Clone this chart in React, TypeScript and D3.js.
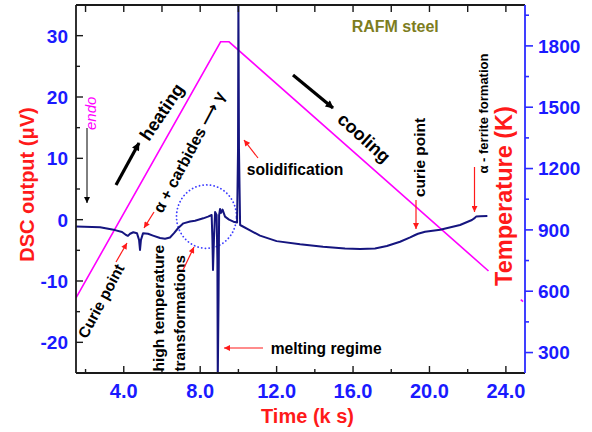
import React from 'react';
import * as d3 from 'd3';

// ---------------- data ----------------
const timeKs = [
  1.5, 2.76, 3.54, 3.91, 4.12, 4.22, 4.33, 4.5, 4.69, 4.8, 4.85, 4.9, 5.01, 5.27, 5.53, 5.9, 6.16, 6.42,
  6.63, 6.84, 7.12, 7.47, 7.73, 8.16, 8.41, 8.6, 8.64, 8.67, 8.72, 8.78, 8.86, 8.9, 8.92, 8.96, 8.99,
  9.04, 9.09, 9.17, 9.3, 9.51, 9.74, 9.93, 9.98, 10.0, 10.03, 10.09, 10.61, 11.13, 12.0, 13.23, 14.43,
  15.58, 16.37, 17.15, 17.77, 18.46, 18.99, 19.25, 19.4, 19.77, 20.56, 21.6, 22.22, 22.34, 22.44,
  22.65, 23.03,
];
const dscUV = [
  -1.1, -1.25, -1.7, -2.0, -2.5, -2.65, -2.3, -2.05, -2.2, -3.3, -4.95, -3.3, -2.2, -2.3, -2.6, -3.0,
  -3.1, -2.9, -2.2, -1.4, -0.6, -0.3, -0.17, 0.22, 0.5, 0.76, -3.3, -8.2, -3.3, 1.25, 0.75, -6.6,
  -26.2, -13, 0.75, 1.75, 1.1, 1.65, 0.5, 0.0, -0.33, -0.45, 11.4, 36, 11.4, -0.87, -1.75, -2.6, -3.5,
  -4.0, -4.4, -4.7, -4.8, -4.7, -4.3, -3.6, -2.9, -2.5, -2.3, -1.97, -1.65, -0.87, -0.06, 0.2, 0.5,
  0.55, 0.6,
];
const tempTimeKs = [1.5, 9.07, 9.51, 23.09];
const tempK = [567, 1820, 1820, 699];
const tempTailTimeKs = [24.78, 24.9];
const tempTailK = [559, 549];

const xTicks = [4, 8, 12, 16, 20, 24];
const xMinorTicks = [2, 6, 10, 14, 18, 22];
const dscTicks = [-20, -10, 0, 10, 20, 30];
const dscMinorTicks = [-15, -5, 5, 15, 25];
const tempTicks = [300, 600, 900, 1200, 1500, 1800];
const tempMinorTicks = [450, 750, 1050, 1350, 1650, 1950];

// highlighted region (data units)
const circleCenter = [8.33, 0.5];
const circleRadius = [1.57, 5.17];

// ---------------- layout ----------------
const W = 592;
const H = 432;
const L = 76, R = 525, T = 5, B = 373;

const FONT = '"Liberation Sans", Arial, "DejaVu Sans", sans-serif';
const BLUE = '#1a1aff';
const RED = '#ff1a1a';
const NAVY = '#15157f';
const MAGENTA = '#ff00ff';

export default function App() {
  const x = d3.scaleLinear().domain([1.5, 25]).range([L, R]);
  const yL = d3.scaleLinear().domain([-25, 35]).range([B, T]);
  const yR = d3.scaleLinear().domain([200, 2000]).range([B, T]);

  const dscLine = d3
    .line<number>()
    .x((_, i) => x(timeKs[i]))
    .y((d) => yL(d));
  const tLine = d3
    .line<number>()
    .x((_, i) => x(tempTimeKs[i]))
    .y((d) => yR(d));
  const tTail = d3
    .line<number>()
    .x((_, i) => x(tempTailTimeKs[i]))
    .y((d) => yR(d));

  const ellipsePts = d3.range(0, 361, 3).map((a) => {
    const r = (a * Math.PI) / 180;
    return [circleCenter[0] + circleRadius[0] * Math.cos(r), circleCenter[1] + circleRadius[1] * Math.sin(r)];
  });
  const ellipsePath = d3
    .line<number[]>()
    .x((d) => x(d[0]))
    .y((d) => yL(d[1]))(ellipsePts);

  const redArrows = [
    [116, 262, 127, 243],
    [154, 212, 144, 228],
    [183, 270, 194, 247],
    [258, 158, 244, 140],
    [263, 348, 224, 348],
    [416, 200, 416, 229],
    [474.5, 167, 474.5, 212],
  ];

  const bold = { fontFamily: FONT, fontWeight: 700 } as const;

  return (
    <svg width={W} height={H} style={{ position: 'absolute', left: 0, top: 0, background: '#fff' }}>
      <defs>
        <clipPath id="plot">
          <rect x={L} y={T} width={R - L} height={B - T} />
        </clipPath>
        <marker id="redHead" viewBox="0 0 10 10" refX="10" refY="5" markerWidth="7" markerHeight="6"
          markerUnits="userSpaceOnUse" orient="auto">
          <path d="M0,0 L10,5 L0,10 z" fill={RED} />
        </marker>
        <marker id="blkHead" viewBox="0 0 10 10" refX="10" refY="5" markerWidth="7" markerHeight="6"
          markerUnits="userSpaceOnUse" orient="auto">
          <path d="M0,0 L10,5 L0,10 z" fill="#000" />
        </marker>
        <marker id="bigHead" viewBox="0 0 10 10" refX="9" refY="5" markerWidth="10" markerHeight="8"
          markerUnits="userSpaceOnUse" orient="auto">
          <path d="M0,0 L10,5 L0,10 z" fill="#000" />
        </marker>
      </defs>

      <rect x={0} y={0} width={W} height={H} fill="#fff" />

      {/* data */}
      <g clipPath="url(#plot)">
        <path d={tLine(tempK) || ''} fill="none" stroke={MAGENTA} strokeWidth={1.6} />
        <path d={tTail(tempTailK) || ''} fill="none" stroke={MAGENTA} strokeWidth={1.6} />
        <path d={ellipsePath || ''} fill="none" stroke="#3c3cff" strokeWidth={1.8}
          strokeDasharray="0.1 3.6" strokeLinecap="round" />
        <path d={dscLine(dscUV) || ''} fill="none" stroke={NAVY} strokeWidth={2} strokeLinejoin="round" />
      </g>

      {/* frame */}
      <line x1={L} y1={T} x2={R} y2={T} stroke="#1a1a1a" strokeWidth={1.8} />
      <line x1={L} y1={B} x2={R} y2={B} stroke="#1a1a1a" strokeWidth={1.8} />
      <line x1={L} y1={T} x2={L} y2={B} stroke="#1a1a1a" strokeWidth={1.8} />
      <line x1={R} y1={T} x2={R} y2={B} stroke="#2b2bff" strokeWidth={1.8} />

      {/* x ticks */}
      {xTicks.map((t) => (
        <g key={'xt' + t}>
          <line x1={x(t)} x2={x(t)} y1={B} y2={B - 7} stroke="#1a1a1a" strokeWidth={1.4} />
          <line x1={x(t)} x2={x(t)} y1={T} y2={T + 7} stroke="#1a1a1a" strokeWidth={1.4} />
          <text x={x(t)} y={398} textAnchor="middle" fill={BLUE} fontSize={20} {...bold}>
            {t.toFixed(1)}
          </text>
        </g>
      ))}
      {xMinorTicks.map((t) => (
        <g key={'xm' + t}>
          <line x1={x(t)} x2={x(t)} y1={B} y2={B - 4} stroke="#1a1a1a" strokeWidth={1.4} />
          <line x1={x(t)} x2={x(t)} y1={T} y2={T + 7} stroke="#1a1a1a" strokeWidth={1.4} />
        </g>
      ))}

      {/* left ticks */}
      {dscTicks.map((v) => (
        <g key={'l' + v}>
          <line x1={L} x2={L + 7} y1={yL(v)} y2={yL(v)} stroke="#1a1a1a" strokeWidth={1.4} />
          <text x={68} y={yL(v)} dy="0.36em" textAnchor="end" fill={BLUE} fontSize={19} {...bold}>
            {v}
          </text>
        </g>
      ))}
      {dscMinorTicks.map((v) => (
        <line key={'lm' + v} x1={L} x2={L + 4} y1={yL(v)} y2={yL(v)} stroke="#1a1a1a" strokeWidth={1.4} />
      ))}

      {/* right ticks */}
      {tempTicks.map((v) => (
        <g key={'r' + v}>
          <line x1={R} x2={R + 8} y1={yR(v)} y2={yR(v)} stroke="#2b2bff" strokeWidth={1.6} />
          <text x={538} y={yR(v)} dy="0.36em" textAnchor="start" fill={BLUE} fontSize={19} {...bold}>
            {v}
          </text>
        </g>
      ))}
      {tempMinorTicks.map((v) => (
        <line key={'rm' + v} x1={R} x2={R + 4} y1={yR(v)} y2={yR(v)} stroke="#2b2bff" strokeWidth={1.6} />
      ))}

      {/* axis titles */}
      <text transform="translate(33.5,184.5) rotate(-90)" textAnchor="middle" fill={RED} fontSize={20} {...bold}>
        DSC output (μV)
      </text>
      <text transform="translate(512,196) rotate(-90)" textAnchor="middle" fill={RED} fontSize={23.5} {...bold}>
        Temperature (K)
      </text>
      <text x={307.5} y={422.5} textAnchor="middle" fill={RED} fontSize={20} {...bold}>
        Time (k s)
      </text>

      {/* annotations */}
      <text x={351.7} y={31.7} fill="#7d7d1e" fontSize={16} {...bold}>RAFM steel</text>
      <text transform="translate(96,130) rotate(-90)" fill={MAGENTA} fontSize={15} fontStyle="italic"
        fontFamily={FONT}>endo</text>
      <line x1={87} y1={128} x2={87} y2={203} stroke="#000" strokeWidth={1} markerEnd="url(#blkHead)" />

      <line x1={116} y1={185} x2={139} y2={143} stroke="#000" strokeWidth={3.2} markerEnd="url(#bigHead)" />
      <text transform="translate(162,112) rotate(-56)" textAnchor="middle" dominantBaseline="central"
        fontSize={18} fill="#000" {...bold}>heating</text>

      <line x1={293} y1={75} x2={333} y2={108} stroke="#000" strokeWidth={3.2} markerEnd="url(#bigHead)" />
      <text transform="translate(364,138) rotate(42)" textAnchor="middle" dominantBaseline="central"
        fontSize={18} fill="#000" {...bold}>cooling</text>

      <text transform="translate(189,152) rotate(-62)" textAnchor="middle" dominantBaseline="central"
        fontSize={16} fill="#000" {...bold}>α + carbides ⟶ γ</text>
      <text transform="translate(101,301) rotate(-62)" textAnchor="middle" dominantBaseline="central"
        fontSize={15.4} fill="#000" {...bold}>Curie point</text>

      <text transform="translate(163.5,371.5) rotate(-90)" fontSize={15.5} fill="#000" {...bold}>high temperature</text>
      <text transform="translate(184.5,371.5) rotate(-90)" fontSize={15.3} fill="#000" {...bold}>transformations</text>
      <text transform="translate(424.5,197) rotate(-90)" fontSize={15.5} fill="#000" {...bold}>curie point</text>
      <text transform="translate(487.5,173.5) rotate(-90)" fontSize={13} fill="#000" {...bold}>α - ferrite formation</text>

      <text x={246.7} y={175} fontSize={15.7} fill="#000" {...bold}>solidification</text>
      <text x={270.7} y={354} fontSize={15.6} fill="#000" {...bold}>melting regime</text>

      {redArrows.map((a, i) => (
        <line key={'ra' + i} x1={a[0]} y1={a[1]} x2={a[2]} y2={a[3]} stroke={RED} strokeWidth={1.2}
          markerEnd="url(#redHead)" />
      ))}
    </svg>
  );
}
